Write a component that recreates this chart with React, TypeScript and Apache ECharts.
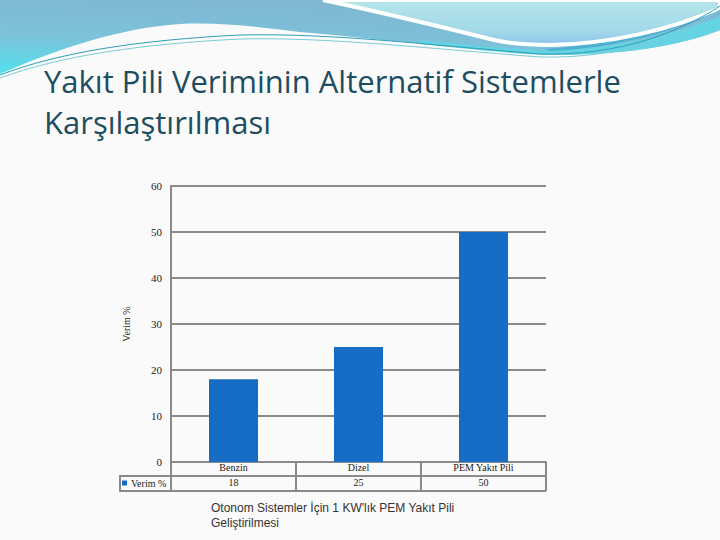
import React, { useEffect, useRef } from "react";
import * as echarts from "echarts";

const categories = ["Benzin", "Dizel", "PEM Yakıt Pili"];
const values = [18, 25, 50];
const seriesName = "Verim %";
const titleLines = ["Yakıt Pili Veriminin Alternatif Sistemlerle", "Karşılaştırılması"];
const footLines = ["Otonom Sistemler İçin 1 KW'lık PEM Yakıt Pili", "Geliştirilmesi"];

const BLUE_BAND =
  "M0,0 L720,0 L720,30 C680,46 620,56 545,54 C470,50 390,40 300,32 C260,27 220,22 180,24 C120,28 60,48 0,74 Z";
const CYAN_TOP =
  "M323,0 L720,0 L720,8 C670,30 610,44 550,45 C520,45 505,43 490,39 C430,24 380,12 323,0 Z";
const CYAN_LOW =
  "M420,40 C470,45 510,50 560,50 C620,48 680,32 720,16 L720,30 C680,46 620,56 545,55 C500,53 460,48 420,44 Z";
const TEAL_BAND =
  "M545,49 C620,44 675,24 720,4 L720,11 C676,30 620,48 550,51 Z";
const THIN1 = "M0,75 C60,52 140,40 240,35 C330,33 420,44 540,54 C620,56 680,32 720,6";
const THIN2 = "M0,78 C60,56 140,44 240,39 C330,37 420,48 540,57 C620,59 680,36 720,10";

echarts.graphic.registerShape("blueBand", echarts.graphic.extendPath(BLUE_BAND, {}));
echarts.graphic.registerShape("cyanTop", echarts.graphic.extendPath(CYAN_TOP, {}));
echarts.graphic.registerShape("cyanLow", echarts.graphic.extendPath(CYAN_LOW, {}));
echarts.graphic.registerShape("tealBand", echarts.graphic.extendPath(TEAL_BAND, {}));
echarts.graphic.registerShape("thin1", echarts.graphic.extendPath(THIN1, {}));
echarts.graphic.registerShape("thin2", echarts.graphic.extendPath(THIN2, {}));

const GRAY = "#8a8a8a";
const SERIF = "'Liberation Serif', 'DejaVu Serif', serif";

export default function App() {
  const ref = useRef<HTMLDivElement>(null);
  useEffect(() => {
    if (!ref.current) return;
    const chart = echarts.init(ref.current, null, { renderer: "svg" });
    chart.setOption({
      animation: false,
      backgroundColor: "#fafafa",
      grid: { left: 171, right: 174, top: 186, bottom: 78, containLabel: false },
      legend: {
        data: [seriesName],
        left: 122,
        top: 478,
        padding: 0,
        icon: "rect",
        itemWidth: 5,
        itemHeight: 5,
        textStyle: { fontFamily: SERIF, fontSize: 10, color: "#222", padding: [0, 0, 0, -1] },
      },
      xAxis: {
        type: "category",
        data: categories,
        axisLine: { show: true, lineStyle: { color: GRAY, width: 2 } },
        axisTick: { show: true, length: 29, lineStyle: { color: GRAY, width: 2 } },
        axisLabel: {
          margin: -2,
          interval: 0,
          formatter: (v: string, i: number) => `{c|${v}}\n{c|${values[i]}}`,
          rich: {
            c: { fontFamily: SERIF, fontSize: 10, color: "#222", lineHeight: 15 },
          },
        },
      },
      yAxis: {
        type: "value",
        min: 0,
        max: 60,
        interval: 10,
        name: seriesName,
        nameLocation: "middle",
        nameGap: 40,
        nameTextStyle: { fontFamily: SERIF, fontSize: 10, color: "#222" },
        axisLine: { show: true, lineStyle: { color: GRAY, width: 2 } },
        axisTick: { show: false },
        axisLabel: { fontFamily: SERIF, fontSize: 11, color: "#222", margin: 9 },
        splitLine: { show: true, lineStyle: { color: GRAY, width: 2 } },
      },
      series: [
        {
          name: seriesName,
          type: "bar",
          data: values,
          barWidth: 49,
          itemStyle: { color: "#176cc6" },
        },
      ],
      graphic: [
        {
          type: "blueBand",
          x: 0,
          y: 0,
          z: -10,
          style: {
            fill: {
              type: "linear",
              x: 0.45,
              y: 0,
              x2: 0.1,
              y2: 1,
              colorStops: [
                { offset: 0, color: "#80b6d3" },
                { offset: 0.55, color: "#7cc2da" },
                { offset: 1, color: "#55dfea" },
              ],
            },
          },
        },
        {
          type: "cyanLow",
          x: 0,
          y: 0,
          z: -9,
          style: { fill: "#66d3e2" },
        },
        {
          type: "tealBand",
          x: 0,
          y: 0,
          z: -9,
          style: { fill: "#4cb0d3" },
        },
        {
          type: "cyanTop",
          x: 0,
          y: 0,
          z: -8,
          style: {
            fill: {
              type: "linear",
              x: 0,
              y: 0,
              x2: 0,
              y2: 1,
              colorStops: [
                { offset: 0, color: "#b6e6ea" },
                { offset: 0.7, color: "#a2d8e8" },
                { offset: 1, color: "#8cc4ea" },
              ],
            },
            stroke: "#ffffff",
            lineWidth: 4,
          },
        },
        { type: "thin1", x: 0, y: 0, z: -7, style: { fill: null, stroke: "#2f9fb6", lineWidth: 1 } },
        { type: "thin2", x: 0, y: 0, z: -7, style: { fill: null, stroke: "#7ccbd8", lineWidth: 1 } },
        {
          type: "text",
          left: 44,
          top: 60,
          style: {
            text: titleLines.join("\n"),
            font: "31px 'Open Sans', Lato, sans-serif",
            lineHeight: 41,
            fill: "#1c4d60",
          },
        },
        { type: "line", shape: { x1: 120, y1: 476, x2: 546, y2: 476 }, style: { stroke: GRAY, lineWidth: 2 } },
        { type: "line", shape: { x1: 120, y1: 491, x2: 546, y2: 491 }, style: { stroke: GRAY, lineWidth: 2 } },
        { type: "line", shape: { x1: 120, y1: 475, x2: 120, y2: 492 }, style: { stroke: GRAY, lineWidth: 2 } },
        {
          type: "text",
          left: 211,
          top: 500,
          style: {
            text: footLines.join("\n"),
            font: "12px 'Liberation Sans', Arial, sans-serif",
            lineHeight: 15,
            fill: "#333",
          },
        },
      ],
    });
    return () => chart.dispose();
  }, []);
  return (
    <div
      ref={ref}
      style={{ position: "fixed", left: 0, top: 0, width: 720, height: 540 }}
    />
  );
}
